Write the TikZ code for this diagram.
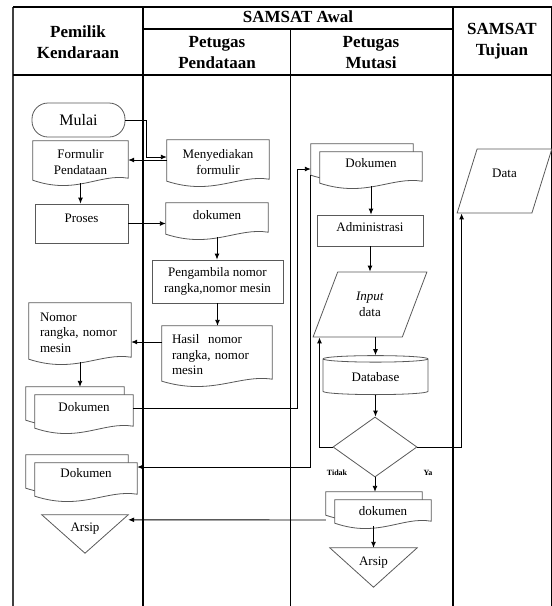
\documentclass[tikz,border=0pt]{standalone}
\usepackage{fontspec}
\setmainfont{Liberation Serif}
\usetikzlibrary{shapes.geometric,arrows.meta,calc}

% garis tepi dokumen dengan bawah bergelombang
\newcommand{\docoutline}[3]{%
  \draw[shapeline, fill=white] let \p1=(#1.south west), \p2=(#1.north east) in
    (\x1#2,\y2#3) -- (\x2#2,\y2#3) -- (\x2#2,\y1+5pt#3)
    .. controls ({\x2-0.3*(\x2-\x1)#2},\y1+10pt#3) and ({\x1+0.45*(\x2-\x1)#2},\y1-12pt#3) .. (\x1#2,\y1+3pt#3) -- cycle;}

\begin{document}
\begin{tikzpicture}[x=1pt, y=-1pt, >={Latex[length=6pt,width=5pt]},
  shapeline/.style={draw=black!65, line width=0.8pt},
  teks/.style={font=\fontsize{13}{15.5}\selectfont},
  header/.style={font=\bfseries\fontsize{17}{21}\selectfont, align=center},
  terminal/.style={rectangle, rounded corners=16pt, shapeline, font=\fontsize{16}{18}\selectfont},
  proses/.style={rectangle, shapeline, teks, align=center},
  doc/.style={rectangle, teks, align=center, append after command={\pgfextra{\let\docnode\tikzlastnode \docoutline{\docnode}{+0pt}{+0pt}}}},
  multidoc/.style={rectangle, teks, align=center, append after command={\pgfextra{\let\docnode\tikzlastnode \docoutline{\docnode}{-9pt}{+8pt}\docoutline{\docnode}{+0pt}{+0pt}}}},
  io/.style={trapezium, trapezium stretches=true, shapeline, teks, align=center},
  database/.style={cylinder, shape border rotate=90, aspect=0.12, shapeline, teks},
  keputusan/.style={diamond, shapeline, inner sep=0pt},
  arsip/.style={rectangle, inner sep=0pt, teks, append after command={\pgfextra{\let\docnode\tikzlastnode \draw[shapeline] (\docnode.north west) -- (\docnode.north east) -- (\docnode.south) -- cycle;}}},
  kecil/.style={font=\bfseries\fontsize{8}{9}\selectfont},
  garis/.style={->, line width=0.9pt}]
\useasboundingbox (0,0) rectangle (552,606);

% Kerangka kolom
\draw[line width=1.4pt, black!75] (13,7) -- (13,606);
\draw[line width=2.4pt] (143,7) -- (143,606);
\draw[line width=1pt] (290,29) -- (290,606);
\draw[line width=2.4pt] (453,7) -- (453,606);
\draw[line width=1pt] (551.5,7) -- (551.5,606);
\draw[line width=2pt] (13,7) -- (552,7);
\draw[line width=1.6pt] (143,29) -- (453,29);
\draw[line width=1.4pt] (13,75) -- (552,75);

\node (hpemilik) [header] at (78,42) {Pemilik\\Kendaraan};
\node (hawal) [header] at (298,17) {SAMSAT Awal};
\node (hpendataan) [header] at (217,53) {Petugas\\Pendataan};
\node (hmutasi) [header] at (371,53) {Petugas\\Mutasi};
\node (htujuan) [header] at (502,41) {SAMSAT\\Tujuan};

% Pemilik Kendaraan
\node (mulai) [terminal, minimum width=93pt, minimum height=34pt] at (78.5,120) {Mulai};
\node (formulir) [doc, minimum width=95pt, minimum height=42pt] at (80.5,162) {Formulir\\Pendataan};
\node (proses) [proses, minimum width=93pt, minimum height=39pt, text depth=11pt] at (81.5,223.5) {Proses};
\node (nomor) [doc, minimum width=102pt, minimum height=59pt, text width=80pt, align=left] at (80,332.5) {Nomor\\rangka, nomor\\mesin};
\node (dok1) [multidoc, minimum width=98pt, minimum height=36pt, text depth=12pt] at (84,413) {Dokumen};
\node (dok2) [multidoc, minimum width=102pt, minimum height=36pt, text depth=16pt] at (86,481) {Dokumen};
\node (arsip1) [arsip, minimum width=86pt, minimum height=38pt, text depth=14pt] at (85,534) {Arsip};

% Petugas Pendataan
\node (menyediakan) [doc, minimum width=102pt, minimum height=44pt] at (218,162) {Menyediakan\\formulir};
\node (dokumen1) [doc, minimum width=102pt, minimum height=34pt, text depth=10pt] at (217,220) {dokumen};
\node (pengambilan) [proses, minimum width=131pt, minimum height=43pt] at (217.5,281.5) {Pengambila nomor\\rangka,nomor mesin};
\node (hasil) [doc, minimum width=110pt, minimum height=58pt, text width=90pt, align=left] at (217,355) {Hasil~~nomor\\rangka, nomor\\mesin};

% Petugas Mutasi
\node (dokM) [multidoc, minimum width=102pt, minimum height=34pt, text depth=12pt] at (371,169) {Dokumen};
\node (admin) [proses, minimum width=106pt, minimum height=31pt, text depth=7pt] at (370,230.5) {Administrasi};
\node (input) [io, trapezium left angle=67, trapezium right angle=113, minimum width=114pt, minimum height=65pt] at (370,304.5) {\textit{Input}\\data};
\node (db) [database, minimum width=105pt, minimum height=39pt] at (375.5,377.5) {Database};
\node (dec) [keputusan, minimum width=84pt, minimum height=60pt] at (375,447) {};
\node (tidak) [kecil] at (337,473) {Tidak};
\node (ya) [kecil] at (428,473) {Ya};
\node (dokM2) [multidoc, minimum width=96pt, minimum height=26pt, text depth=4pt] at (383,513) {dokumen};
\node (arsip2) [arsip, minimum width=87pt, minimum height=39pt, text depth=13pt] at (373.5,567.5) {Arsip};

% SAMSAT Tujuan
\node (data) [io, trapezium left angle=70, trapezium right angle=110, minimum width=95pt, minimum height=64pt, text depth=16pt] at (504.5,181) {Data};

% Alur
\draw[garis] (mulai.east) -- ++(21,0) |- ([yshift=5pt]menyediakan.west);
\draw[garis] ([yshift=2pt]menyediakan.west) -- ([yshift=2pt]formulir.east);
\draw[garis] (formulir.south) -- (formulir.south |- proses.north);
\draw[garis] (proses.east) -- (proses.east -| dokumen1.west);
\draw[garis] (dokumen1.south) -- (dokumen1.south |- pengambilan.north);
\draw[garis] (pengambilan.south) -- (pengambilan.south |- hasil.north);
\draw[garis] ([yshift=13pt]hasil.west) -- ([yshift=13pt]hasil.west -| nomor.east);
\draw[garis] (nomor.south) -- ([yshift=8pt]nomor.south |- dok1.north);
\draw[garis] ([yshift=5pt]dok1.east) -- ++(164,0) |- ([xshift=-9pt]dokM.west);
\draw[garis] (dokM.south) -- (dokM.south |- admin.north);
\draw[garis] (admin.south) -- (admin.south |- input.north);
\draw[garis] (input.south -| db.north) -- (db.north);
\draw[garis] (db.south) -- (db.south |- dec.north);
\draw[garis] (dec.south) -- ([yshift=8pt]dec.south |- dokM2.north);
\draw[garis] (dec.west) -| ([xshift=7pt]input.bottom left corner);
\draw[garis] (dec.east) -| ([xshift=5pt]data.bottom left corner);
\draw[garis] ([xshift=-9pt,yshift=11pt]dokM.south west) |- ([yshift=14pt]dok2.east);
\draw[garis] ([xshift=-9pt,yshift=-7pt]dokM2.west) -- ([yshift=-5pt]arsip1.north east);
\draw[garis] (arsip2.north |- dokM2.south) -- (arsip2.north);

\end{tikzpicture}
\end{document}
